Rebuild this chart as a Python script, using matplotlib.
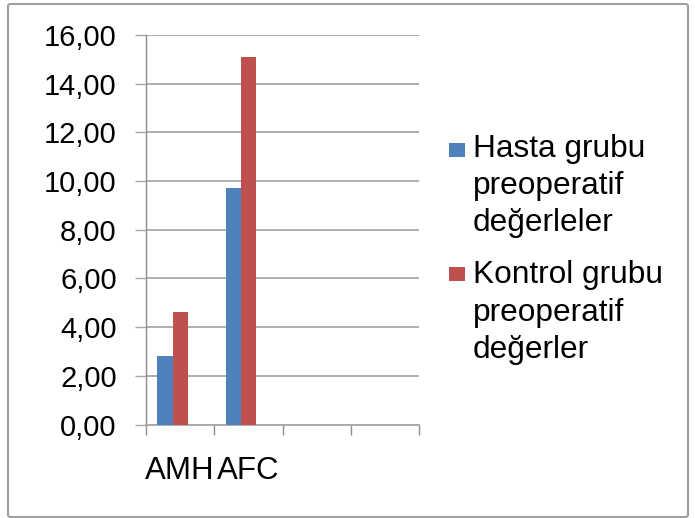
import matplotlib
matplotlib.use("Agg")
import matplotlib.pyplot as plt
import numpy as np
from matplotlib.patches import Rectangle, FancyBboxPatch

categories = ["AMH", "AFC", "", ""]
hasta = [2.80, 9.72]
kontrol = [4.62, 15.10]
series_names = ["Hasta grubu\npreoperatif\ndeğerleler", "Kontrol grubu\npreoperatif\ndeğerler"]
colors = ["#4F81BD", "#C0504D"]
yticks = [0, 2, 4, 6, 8, 10, 12, 14, 16]

plt.rcParams['font.family'] = ['Liberation Sans', 'DejaVu Sans']

W, H = 695, 518
fig = plt.figure(figsize=(W / 100, H / 100), dpi=100)
ax = fig.add_axes([146/W, 1-424.5/H, (419-146)/W, (424.5-35)/H])

n_slots = 3  # Excel-style: 3 series slots, gap width 150%
width = 1.0 / (n_slots + 1.5)
centers = np.arange(len(categories)) + 0.5
for i, (vals, col) in enumerate(zip([hasta, kontrol], colors)):
    off = (i - (n_slots - 1) / 2) * width
    ax.bar(centers[:len(vals)] + off, vals, width=width, color=col, zorder=3)

ax.set_xlim(0, len(categories))
ax.set_ylim(0, 16)
ax.set_yticks(yticks)
ax.set_yticklabels([f"{v:.2f}".replace('.', ',') for v in yticks])
ax.yaxis.grid(True, color='#a8a8a8', linewidth=1.3, zorder=0)
ax.set_axisbelow(True)

ax.set_xticks(centers)
ax.set_xticklabels(categories)
ax.set_xticks(np.arange(len(categories) + 1), minor=True)
ax.tick_params(axis='x', which='major', length=0, pad=23, labelsize=22.5)
ax.tick_params(axis='x', which='minor', length=7, width=1.0, color='#8c8c8c', direction='out')
ax.tick_params(axis='y', length=8, width=1.0, color='#a8a8a8', pad=13, labelsize=21, direction='out')

for s in ['top', 'right']:
    ax.spines[s].set_visible(False)
ax.spines['left'].set_color('#8c8c8c')
ax.spines['left'].set_linewidth(1.0)
ax.spines['bottom'].set_color('#a8a8a8')
ax.spines['bottom'].set_linewidth(1.3)

# legend (handle aligned with the first line, as in the reference)
square_tops = [143, 267]
last_baselines = [231.5, 358]
for name, col, yt, yb in zip(series_names, colors, square_tops, last_baselines):
    fig.patches.append(Rectangle((449/W, 1-(yt+14)/H), 16/W, 14/H,
                                 transform=fig.transFigure, facecolor=col, edgecolor='none'))
    fig.text(473/W, 1-yb/H, name, fontsize=22.8, ha='left', va='baseline',
             linespacing=1.32, color='black')

border = FancyBboxPatch((8/W, 1-517/H), (688-8)/W, (517-4)/H,
                        boxstyle="round,pad=0,rounding_size=0.004",
                        transform=fig.transFigure, facecolor='none',
                        edgecolor='#a0a0a0', linewidth=1.5)
fig.patches.append(border)

fig.savefig("out.png", dpi=100)
